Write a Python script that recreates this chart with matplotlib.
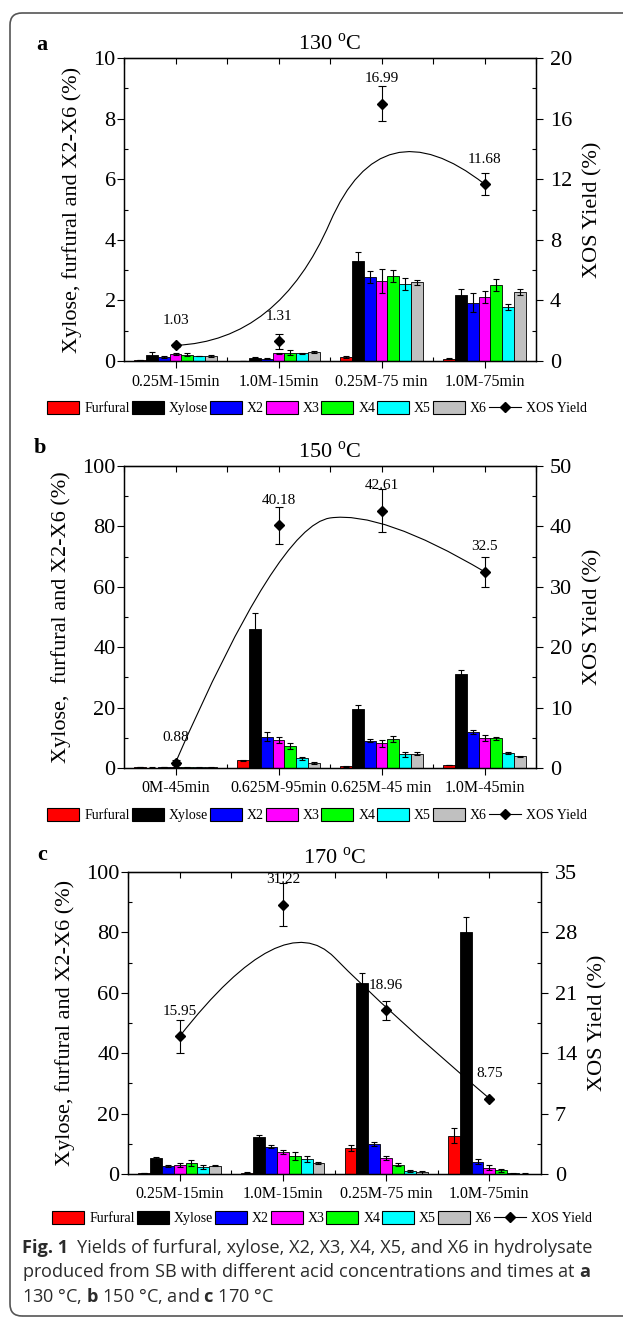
import matplotlib
matplotlib.use('Agg')
import matplotlib.pyplot as plt
import numpy as np
from matplotlib.patches import Patch, PathPatch, FancyBboxPatch
from matplotlib.lines import Line2D
from matplotlib.path import Path
from matplotlib.ticker import MultipleLocator

plt.rcParams['font.family'] = 'Liberation Serif'
plt.rcParams['mathtext.fontset'] = 'custom'
plt.rcParams['mathtext.rm'] = 'Liberation Serif'
plt.rcParams['mathtext.bf'] = 'Open Sans:bold'

series = ['Furfural', 'Xylose', 'X2', 'X3', 'X4', 'X5', 'X6']
colors = ['#ff0000', '#000000', '#0000ff', '#ff00ff', '#00ff00', '#00ffff', '#c0c0c0']

# ---- a: 130 C  (rows = series, cols = conditions)
cond_a = ['0.25M-15min', '1.0M-15min', '0.25M-75 min', '1.0M-75min']
bars_a = [[0.03, 0.01, 0.13, 0.08],
          [0.21, 0.11, 3.30, 2.19],
          [0.13, 0.08, 2.77, 1.93],
          [0.24, 0.25, 2.64, 2.11],
          [0.21, 0.28, 2.81, 2.51],
          [0.17, 0.25, 2.55, 1.79],
          [0.16, 0.29, 2.60, 2.28]]
err_a = [[0.01, 0.00, 0.02, 0.01],
         [0.09, 0.01, 0.30, 0.20],
         [0.02, 0.01, 0.20, 0.30],
         [0.03, 0.03, 0.40, 0.20],
         [0.05, 0.08, 0.20, 0.20],
         [0.01, 0.03, 0.20, 0.10],
         [0.03, 0.03, 0.08, 0.10]]
xos_a = [1.03, 1.31, 16.99, 11.68]
xos_err_a = [0.10, 0.49, 1.15, 0.72]

# ---- b: 150 C
cond_b = ['0M-45min', '0.625M-95min', '0.625M-45 min', '1.0M-45min']
bars_b = [[0.25, 2.5, 0.55, 1.0],
          [0.15, 46.1, 19.6, 31.2],
          [0.30, 10.4, 8.95, 11.9],
          [0.25, 9.3, 8.2, 9.9],
          [0.20, 7.3, 9.6, 9.8],
          [0.20, 3.2, 4.6, 5.0],
          [0.20, 1.66, 4.75, 3.9]]
err_b = [[0.05, 0.2, 0.1, 0.1],
         [0.05, 5.3, 1.3, 1.1],
         [0.05, 1.5, 0.5, 0.7],
         [0.05, 1.0, 1.2, 0.9],
         [0.05, 1.0, 0.9, 0.5],
         [0.05, 0.4, 0.8, 0.4],
         [0.05, 0.2, 0.5, 0.2]]
xos_b = [0.88, 40.18, 42.61, 32.5]
xos_err_b = [0.4, 3.1, 3.6, 2.5]

# ---- c: 170 C
cond_c = ['0.25M-15min', '1.0M-15min', '0.25M-75 min', '1.0M-75min']
bars_c = [[0.3, 0.4, 8.7, 12.6],
          [5.4, 12.3, 63.1, 80.2],
          [2.65, 9.06, 9.94, 4.1],
          [3.0, 7.2, 5.3, 2.1],
          [3.75, 6.0, 3.1, 1.2],
          [2.3, 5.0, 1.1, 0.2],
          [2.75, 3.65, 0.55, 0.1]]
err_c = [[0.1, 0.2, 1.0, 2.5],
         [0.3, 0.6, 3.5, 5.0],
         [0.2, 0.5, 0.8, 0.9],
         [0.8, 0.6, 0.8, 0.9],
         [1.0, 1.2, 0.5, 0.4],
         [0.6, 0.9, 0.3, 0.1],
         [0.2, 0.3, 0.5, 0.1]]
xos_c = [15.95, 31.22, 18.96, 8.75]
xos_err_c = [1.93, 2.47, 1.1, 0.0]

W, H = 623, 1318
SERIF = 'Liberation Serif'
fig = plt.figure(figsize=(W / 100, H / 100), dpi=100)


def px_axes(l, t, r, b):
    return [l / W, 1 - b / H, (r - l) / W, (b - t) / H]


def draw_panel(rect, letter, letter_xy, title, conds, bars, errs, xos, xos_err,
               ymax_l, step_l, ymax_r, step_r, ylabel, leg_xy):
    ax = fig.add_axes(px_axes(*rect))
    x = np.arange(len(conds))
    w = 0.115
    for i in range(len(series)):
        ax.bar(x + (i - 3) * w, bars[i], w, yerr=errs[i], color=colors[i],
               edgecolor='black', linewidth=0.6,
               error_kw=dict(elinewidth=0.8, capsize=2.2, capthick=0.8, ecolor='black'))
    ax.set_xlim(-0.5, len(conds) - 0.5)
    ax.set_ylim(0, ymax_l)
    ax.set_xticks(x)
    ax.set_xticklabels(conds, fontsize=11.5, fontfamily=SERIF)
    ax.set_xticks(x[:-1] + 0.5, minor=True)
    ax.yaxis.set_major_locator(MultipleLocator(step_l))
    ax.yaxis.set_minor_locator(MultipleLocator(step_l / 2))
    ax.tick_params(axis='both', which='major', direction='out', length=5, width=0.8)
    ax.tick_params(axis='both', which='minor', direction='in', length=3, width=0.8)
    ax.tick_params(axis='y', labelsize=16, pad=1)
    ax.tick_params(axis='x', pad=4)
    ax.set_ylabel(ylabel, fontsize=16, labelpad=8, fontfamily=SERIF)
    for s in ax.spines.values():
        s.set_linewidth(1.0)

    sec = ax.secondary_xaxis('top')
    sec.set_xticks(np.arange(-0.5, len(conds), 0.5))
    sec.tick_params(axis='x', which='both', direction='in', length=4, width=0.8, labeltop=False)

    ax2 = ax.twinx()
    ax2.set_ylim(0, ymax_r)
    ax2.yaxis.set_major_locator(MultipleLocator(step_r))
    ax2.yaxis.set_minor_locator(MultipleLocator(step_r / 2))
    ax2.tick_params(axis='y', which='major', direction='out', length=5, width=0.8, labelsize=16, pad=5)
    ax2.tick_params(axis='y', which='minor', direction='in', length=3, width=0.8)
    ax2.set_ylabel('XOS Yield (%)', fontsize=16, labelpad=8, fontfamily=SERIF)

    # quadratic B-spline using the yield points as control points
    verts = [(x[0], xos[0]), (x[1], xos[1]),
             ((x[1] + x[2]) / 2, (xos[1] + xos[2]) / 2),
             (x[2], xos[2]), (x[3], xos[3])]
    codes = [Path.MOVETO, Path.CURVE3, Path.CURVE3, Path.CURVE3, Path.CURVE3]
    ax2.add_patch(PathPatch(Path(verts, codes), fill=False, lw=0.8, edgecolor='black'))
    ax2.errorbar(x, xos, yerr=xos_err, fmt='D', color='black', ms=5,
                 capsize=3, elinewidth=0.8, capthick=0.8)
    for xi, yi in zip(x, xos):
        ax2.annotate(f'{yi:g}', (xi, yi), xytext=(0, 18), textcoords='offset points',
                     ha='center', va='center', fontsize=11, fontfamily=SERIF)

    ax.text(0.5, 1.045, title, transform=ax.transAxes, ha='center', va='center',
            fontsize=16, fontfamily=SERIF)
    fig.text(letter_xy[0] / W, 1 - letter_xy[1] / H, letter, fontsize=16,
             fontweight='bold', ha='center', va='center', fontfamily=SERIF)

    handles = [Patch(facecolor=c, edgecolor='black', linewidth=0.8) for c in colors]
    handles.append(Line2D([0], [0], color='black', marker='D', ms=5, lw=0.8))
    fig.legend(handles, series + ['XOS Yield'], loc='center',
               bbox_to_anchor=(leg_xy[0] / W, 1 - leg_xy[1] / H), ncol=8,
               frameon=False, fontsize=10, handlelength=2.3, handleheight=1.15,
               handletextpad=0.35, columnspacing=0.15, borderpad=0, borderaxespad=0)
    return ax


draw_panel((124, 58, 536, 361), 'a', (42, 45), '130 $^{\\mathrm{o}}$C', cond_a, bars_a, err_a,
           xos_a, xos_err_a, 10, 2, 20, 4, 'Xylose, furfural and X2-X6 (%)', (317, 408))
draw_panel((124, 466, 536, 768), 'b', (40, 448), '150 $^{\\mathrm{o}}$C', cond_b, bars_b, err_b,
           xos_b, xos_err_b, 100, 20, 50, 10, 'Xylose,  furfural and X2-X6 (%)', (317, 815))
draw_panel((128, 872, 541, 1174), 'c', (42, 855), '170 $^{\\mathrm{o}}$C', cond_c, bars_c, err_c,
           xos_c, xos_err_c, 100, 20, 35, 7, 'Xylose, furfural and X2-X6 (%)', (322, 1218))

# rounded frame around the figure
frame = FancyBboxPatch((0.10, 0.02), 7.0, 13.03, boxstyle='round,pad=0,rounding_size=0.12',
                       transform=fig.dpi_scale_trans, fill=False, edgecolor='#555555', lw=1.2)
fig.add_artist(frame)

# caption: bold "Fig. 1" then the rest of the first line, fitted to the frame width
cap_color = '#2b2b2b'
cap_base = [1253, 1277, 1302]
renderer = fig.canvas.get_renderer()
cap_size = 11
tb = fig.text(22 / W, 1 - cap_base[0] / H, 'Fig. 1', fontsize=cap_size, family='Open Sans',
              fontweight='bold', color=cap_color, va='baseline')
tr = fig.text(0, 1 - cap_base[0] / H,
              'Yields of furfural, xylose, X2, X3, X4, X5, and X6 in hydrolysate',
              fontsize=cap_size, family='Open Sans', color=cap_color, va='baseline')
total = tb.get_window_extent(renderer).width + tr.get_window_extent(renderer).width + 9
cap_size = cap_size * 573 / total
tb.set_fontsize(cap_size)
tr.set_fontsize(cap_size)
tr.set_x((22 + tb.get_window_extent(renderer).width + 9) / W)

cap_rest = [r'produced from SB with different acid concentrations and times at $\mathbf{a}$',
            r'130 °C, $\mathbf{b}$ 150 °C, and $\mathbf{c}$ 170 °C']
for line, yb in zip(cap_rest, cap_base[1:]):
    fig.text(22 / W, 1 - yb / H, line, fontsize=cap_size, family='Open Sans',
             color=cap_color, va='baseline')

fig.savefig('out.png', dpi=100)
